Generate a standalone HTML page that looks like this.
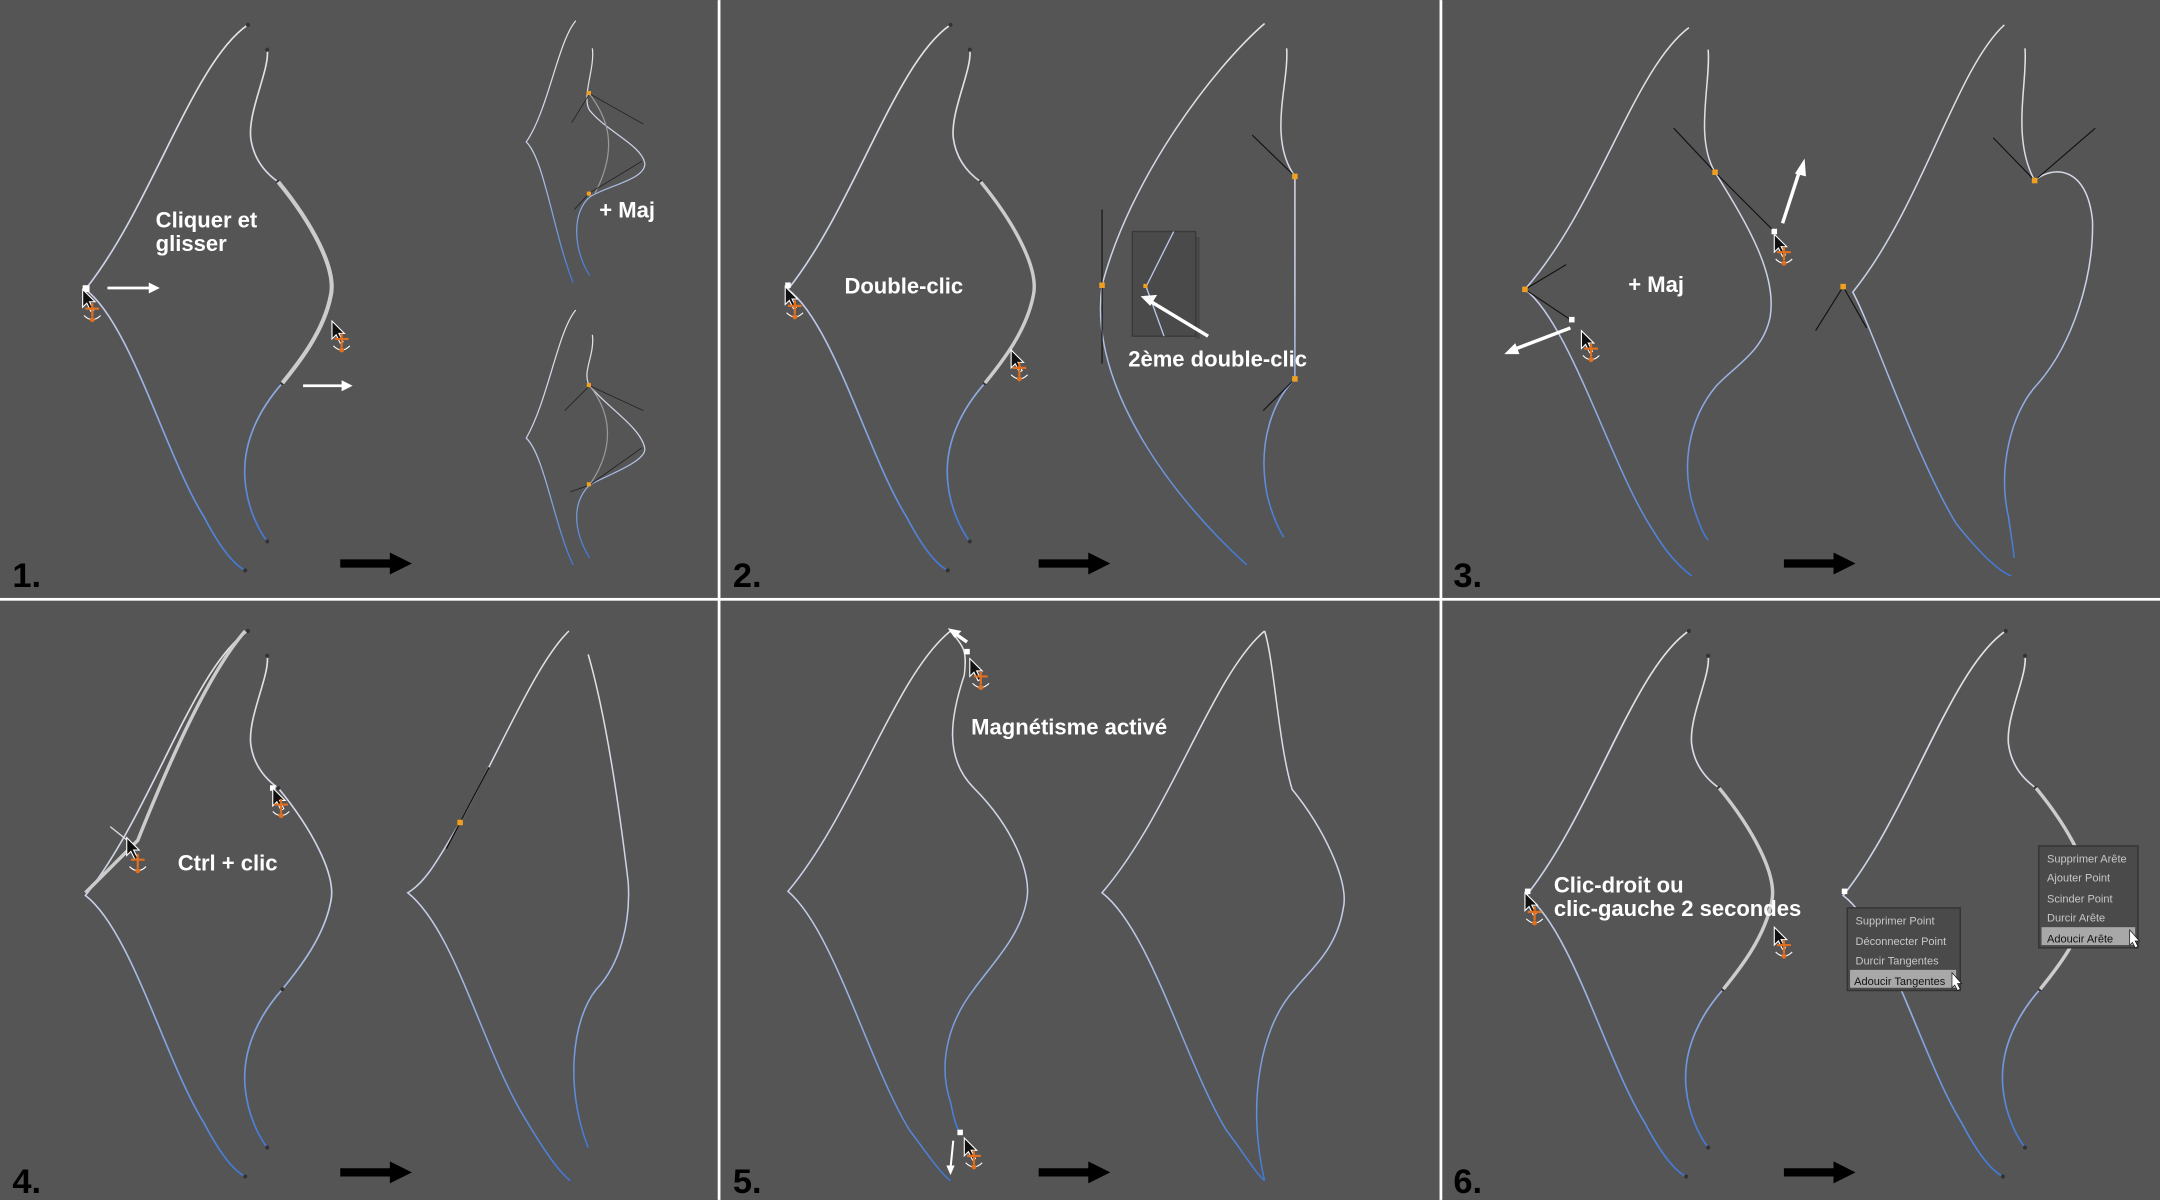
<!DOCTYPE html>
<html><head><meta charset="utf-8"><style>
html,body{margin:0;padding:0;background:#555;}
svg{display:block}
text{font-family:"Liberation Sans",sans-serif;font-weight:bold;}
text.m{font-weight:normal;}
</style></head><body>
<svg width="2160" height="1200" viewBox="0 0 1568 871" xmlns="http://www.w3.org/2000/svg">
<defs>
<linearGradient id="g" gradientUnits="objectBoundingBox" x1="0" y1="0" x2="0" y2="1">
<stop offset="0" stop-color="#e4e4e4"/><stop offset="0.5" stop-color="#c8d0e8"/><stop offset="1" stop-color="#3f78d8"/></linearGradient>
<g id="shape">
<path d="M180,18 C140,45 110,150 62,210 C95,235 120,330 148,375 C160,398 170,410 178,414" fill="none" stroke="url(#g)" stroke-width="1.2"/>
<path d="M194,36 C196,50 180,80 182,100 C184,115 192,125 202,132 C225,160 245,195 240,215 C235,240 218,262 205,278 C190,295 175,320 178,350 C180,370 188,385 194,393" fill="none" stroke="url(#g)" stroke-width="1.2"/>
<g fill="#333"><circle cx="180" cy="18" r="1.5"/><circle cx="194" cy="36" r="1.5"/><circle cx="202" cy="132" r="1.5"/><circle cx="205" cy="278" r="1.5"/><circle cx="194" cy="393" r="1.5"/><circle cx="178" cy="414" r="1.5"/></g>
</g>
<g id="cur"><path d="M0,0 L0,13 L3,10 L6,16 L8,15 L5,9 L9,9 Z" fill="#111" stroke="#fff" stroke-width="0.8"/></g>
<g id="anc" fill="none" stroke="#e07020" stroke-width="1.6"><path d="M6,0 V10 M1,4 H11"/><path d="M0,9 Q6,15 12,9" stroke="#fff" stroke-width="0.8"/><circle cx="6" cy="12" r="1" fill="#e07020"/></g>
<g id="bigarrow"><path d="M0,-3 H36 V-8 L52,0 L36,8 V3 H0 Z" fill="#000"/></g>
</defs>
<rect width="1568" height="871" fill="#555"/>
<rect x="521" y="0" width="2" height="871" fill="#fff"/>
<rect x="1045" y="0" width="2" height="871" fill="#fff"/>
<rect x="0" y="434" width="1568" height="2" fill="#fff"/>

<!-- Panel 1 -->
<use href="#shape"/>
<path d="M202,132 C225,160 245,195 240,215 C235,240 218,262 205,278" fill="none" stroke="#ccc" stroke-width="3"/>
<rect x="60" y="207" width="5" height="5" fill="#fff"/>
<use href="#cur" x="60" y="210"/><use href="#anc" x="61" y="220"/>
<path d="M78,209 H110" stroke="#fff" stroke-width="2"/><path d="M108,205 L116,209 L108,213Z" fill="#fff"/>
<path d="M220,280 H250" stroke="#fff" stroke-width="2"/><path d="M248,276 L256,280 L248,284Z" fill="#fff"/>
<use href="#cur" x="241" y="233"/><use href="#anc" x="242" y="242"/>
<text x="113" y="165" font-size="16" fill="#fff">Cliquer et</text>
<text x="113" y="182" font-size="16" fill="#fff">glisser</text>
<text x="435" y="158" font-size="16" fill="#fff">+ Maj</text>
<g fill="none" stroke-width="0.9">
<path d="M418,15 C405,30 398,80 382,103 C395,115 402,170 416,205" stroke="url(#g)"/>
<path d="M430,35 C432,50 422,70 428,80 C440,95 465,105 468,118 C470,130 440,135 428,143 C415,155 416,180 428,200" stroke="url(#g)"/>
<path d="M428,68 C440,85 450,105 432,140" stroke="#999"/>
<path d="M418,225 C405,240 398,290 382,318 C395,330 402,380 416,410" stroke="url(#g)"/>
<path d="M430,243 C432,258 422,270 428,280 C440,295 465,310 468,325 C470,335 440,345 428,352 C415,365 416,385 428,405" stroke="url(#g)"/>
<path d="M428,280 C440,295 450,320 428,352" stroke="#999"/>
</g>
<g fill="none" stroke="#222" stroke-width="0.6">
<path d="M415,89 L428,68 L467,90 M466,117 L428,140 L417,152"/>
<path d="M410,298 L428,280 L467,298 M466,325 L428,352 L414,357"/>
</g>
<g fill="#f0a020"><rect x="426" y="66" width="3" height="3"/><rect x="426" y="139" width="3" height="3"/><rect x="426" y="278" width="3" height="3"/><rect x="426" y="350" width="3" height="3"/></g>
<text x="9" y="426" font-size="25" fill="#000">1.</text>
<use href="#bigarrow" x="247" y="409"/>

<!-- Panel 2 -->
<use href="#shape" x="510"/>
<path d="M712,132 C735,160 755,195 750,215 C745,240 728,262 715,278" fill="none" stroke="#ccc" stroke-width="2.5"/>
<rect x="570" y="205" width="4" height="4" fill="#fff"/>
<use href="#cur" x="570" y="208"/><use href="#anc" x="571" y="218"/>
<use href="#cur" x="734" y="254"/><use href="#anc" x="734" y="263"/>
<text x="613" y="213" font-size="16" fill="#fff">Double-clic</text>
<path d="M918,17 C880,50 820,130 800,207 C790,280 850,360 905,410" fill="none" stroke="url(#g)" stroke-width="1.1"/>
<path d="M934,35 C936,60 920,100 940,128 L940,275 C925,290 912,320 920,360 C925,380 932,390 932,390" fill="none" stroke="url(#g)" stroke-width="1.1"/>
<path d="M800,152 V264 M909,98 L940,128 M940,275 L917,298" stroke="#111" stroke-width="0.8"/>
<g fill="#f0a020"><rect x="798" y="205" width="4" height="4"/><rect x="938" y="126" width="4" height="4"/><rect x="938" y="273" width="4" height="4"/></g>
<rect x="868" y="172" width="3" height="74" fill="#484848"/>
<rect x="822" y="168" width="46" height="76" fill="#4a4a4a" stroke="#3a3a3a"/>
<path d="M852,168 L832,208 L845,244" fill="none" stroke="#b8c4e4" stroke-width="1"/>
<rect x="830" y="206" width="3" height="3" fill="#f0a020"/>
<path d="M877,244 L834,218" stroke="#fff" stroke-width="2.5"/><path d="M828,215 L840,214 L835,222Z" fill="#fff"/>
<text x="819" y="266" font-size="16" fill="#fff">2ème double-clic</text>
<text x="532" y="426" font-size="25" fill="#000">2.</text>
<use href="#bigarrow" x="754" y="409"/>

<!-- Panel 3 -->
<g fill="none" stroke="url(#g)" stroke-width="1.1">
<path d="M1226,20 C1186,50 1160,150 1107,210 C1140,235 1170,340 1200,385 C1210,402 1220,412 1228,418"/>
<path d="M1240,36 C1242,60 1230,100 1245,125 C1270,165 1290,200 1285,230 C1280,255 1260,265 1246,280 C1225,305 1220,340 1230,370 C1235,385 1238,390 1240,392"/>
<path d="M1455,18 C1420,50 1395,150 1345,212 C1360,240 1390,330 1420,380 C1440,405 1452,415 1460,418"/>
<path d="M1470,35 C1472,60 1460,100 1477,131 C1490,120 1515,120 1519,160 C1520,200 1505,250 1478,280 C1460,300 1450,340 1458,375 C1460,390 1462,400 1462,405"/>
</g>
<path d="M1137,192 L1107,210 L1140,232 M1215,93 L1245,125 L1288,168 M1447,100 L1477,131 L1521,93 M1318,240 L1338,208 L1355,238" fill="none" stroke="#111" stroke-width="0.8"/>
<g fill="#f0a020"><rect x="1105" y="208" width="4" height="4"/><rect x="1243" y="123" width="4" height="4"/><rect x="1475" y="129" width="4" height="4"/><rect x="1336" y="206" width="4" height="4"/></g>
<rect x="1139" y="230" width="4" height="4" fill="#fff"/><rect x="1286" y="166" width="4" height="4" fill="#fff"/>
<path d="M1140,238 L1098,254" stroke="#fff" stroke-width="2.5"/><path d="M1092,257 L1100,249 L1103,257Z" fill="#fff"/>
<path d="M1294,162 L1307,122" stroke="#fff" stroke-width="2.5"/><path d="M1310,115 L1311,128 L1303,126Z" fill="#fff"/>
<use href="#cur" x="1148" y="240"/><use href="#anc" x="1149" y="249"/>
<use href="#cur" x="1288" y="170"/><use href="#anc" x="1289" y="179"/>
<text x="1182" y="212" font-size="16" fill="#fff">+ Maj</text>
<text x="1055" y="426" font-size="25" fill="#000">3.</text>
<use href="#bigarrow" x="1295" y="409"/>

<!-- Panel 4 -->
<use href="#shape" y="440"/>
<path d="M178,458 C150,490 120,560 100,610 C85,625 70,640 62,648" fill="none" stroke="#ccc" stroke-width="2.5"/>
<path d="M80,600 L100,616" stroke="#ddd" stroke-width="1"/>
<use href="#cur" x="92" y="608"/><use href="#anc" x="94" y="620"/>
<rect x="196" y="570" width="4" height="4" fill="#fff"/>
<use href="#cur" x="198" y="572"/><use href="#anc" x="198" y="580"/>
<text x="129" y="632" font-size="16" fill="#fff">Ctrl + clic</text>
<g fill="none" stroke-width="1.1">
<path d="M413,458 C390,480 365,540 334,597 C320,620 310,640 296,648 C330,675 350,760 380,810 C395,835 405,850 414,857" stroke="url(#g)"/>
<path d="M427,475 C440,520 450,590 456,640 C458,670 450,700 433,718 C415,740 410,790 427,833" stroke="url(#g)"/>
</g>
<path d="M355,557 L334,597 L324,616" stroke="#111" stroke-width="1"/>
<rect x="332" y="595" width="4" height="4" fill="#f0a020"/>
<text x="9" y="866" font-size="25" fill="#000">4.</text>
<use href="#bigarrow" x="247" y="851"/>

<!-- Panel 5 -->
<g fill="none" stroke="url(#g)" stroke-width="1.1">
<path d="M690,458 C650,490 620,590 572,647 C605,675 630,770 660,820 C675,840 683,852 690,857"/>
<path d="M690,458 C700,470 702,472 700,490 C690,520 685,550 707,572 C735,600 750,635 745,655 C740,680 720,700 707,718 C690,740 680,770 690,800 C693,815 695,820 697,822"/>
<path d="M918,458 C880,490 850,590 800,648 C835,675 860,770 890,820 C905,840 912,852 918,857"/>
<path d="M918,458 C925,480 928,540 938,573 C960,600 980,640 975,660 C970,690 950,705 940,718 C915,745 905,800 918,857"/>
</g>
<rect x="700" y="471" width="4" height="4" fill="#fff"/><rect x="695" y="820" width="4" height="4" fill="#fff"/>
<path d="M702,466 L692,459" stroke="#fff" stroke-width="2.5"/><path d="M688,456 L698,458 L693,463Z" fill="#fff"/>
<path d="M692,828 L690,848" stroke="#fff" stroke-width="1.5"/><path d="M687,846 L690,853 L693,846Z" fill="#fff"/>
<use href="#cur" x="704" y="478"/><use href="#anc" x="706" y="487"/>
<use href="#cur" x="700" y="826"/><use href="#anc" x="701" y="835"/>
<text x="705" y="533" font-size="16" fill="#fff">Magnétisme activé</text>
<text x="532" y="866" font-size="25" fill="#000">5.</text>
<use href="#bigarrow" x="754" y="851"/>

<!-- Panel 6 -->
<use href="#shape" x="1046" y="440"/>
<path d="M1248,572 C1271,600 1291,635 1286,655 C1281,680 1264,702 1251,718" fill="none" stroke="#ccc" stroke-width="2.5"/>
<rect x="1107" y="645" width="4" height="4" fill="#fff"/>
<use href="#cur" x="1107" y="648"/><use href="#anc" x="1108" y="658"/>
<use href="#cur" x="1288" y="673"/><use href="#anc" x="1289" y="682"/>
<text x="1128" y="648" font-size="16" fill="#fff">Clic-droit ou</text>
<text x="1128" y="665" font-size="16" fill="#fff">clic-gauche 2 secondes</text>
<use href="#shape" x="1276" y="440"/>
<path d="M1478,572 C1501,600 1521,635 1516,655 C1511,680 1494,702 1481,718" fill="none" stroke="#ccc" stroke-width="2.5"/>
<rect x="1337" y="645" width="4" height="4" fill="#fff"/>
<rect x="1341" y="659" width="82" height="60" fill="#4a4a4a" stroke="#333"/>
<rect x="1343" y="704" width="77" height="13" fill="#a8a8a8"/>
<text class="m" style="font-weight:normal" x="1347" y="671" font-size="8" fill="#c8c8c8">Supprimer Point</text>
<text class="m" style="font-weight:normal" x="1347" y="686" font-size="8" fill="#c8c8c8">Déconnecter Point</text>
<text class="m" style="font-weight:normal" x="1347" y="700" font-size="8" fill="#c8c8c8">Durcir Tangentes</text>
<text class="m" style="font-weight:normal" x="1346" y="715" font-size="8" fill="#111">Adoucir Tangentes</text>
<rect x="1480" y="614" width="72" height="74" fill="#4a4a4a" stroke="#333"/>
<rect x="1482" y="673" width="68" height="13" fill="#a8a8a8"/>
<text class="m" style="font-weight:normal" x="1486" y="626" font-size="8" fill="#c8c8c8">Supprimer Arête</text>
<text class="m" style="font-weight:normal" x="1486" y="640" font-size="8" fill="#c8c8c8">Ajouter Point</text>
<text class="m" style="font-weight:normal" x="1486" y="655" font-size="8" fill="#c8c8c8">Scinder Point</text>
<text class="m" style="font-weight:normal" x="1486" y="669" font-size="8" fill="#c8c8c8">Durcir Arête</text>
<text class="m" style="font-weight:normal" x="1486" y="684" font-size="8" fill="#111">Adoucir Arête</text>
<path d="M1417,706 L1417,717 L1419,715 L1421,719 L1423,718 L1421,714 L1424,714Z" fill="#fff" stroke="#111" stroke-width="0.5"/>
<path d="M1546,675 L1546,686 L1548,684 L1550,688 L1552,687 L1550,683 L1553,683Z" fill="#fff" stroke="#111" stroke-width="0.5"/>
<text x="1055" y="866" font-size="25" fill="#000">6.</text>
<use href="#bigarrow" x="1295" y="851"/>
</svg>
</body></html>
